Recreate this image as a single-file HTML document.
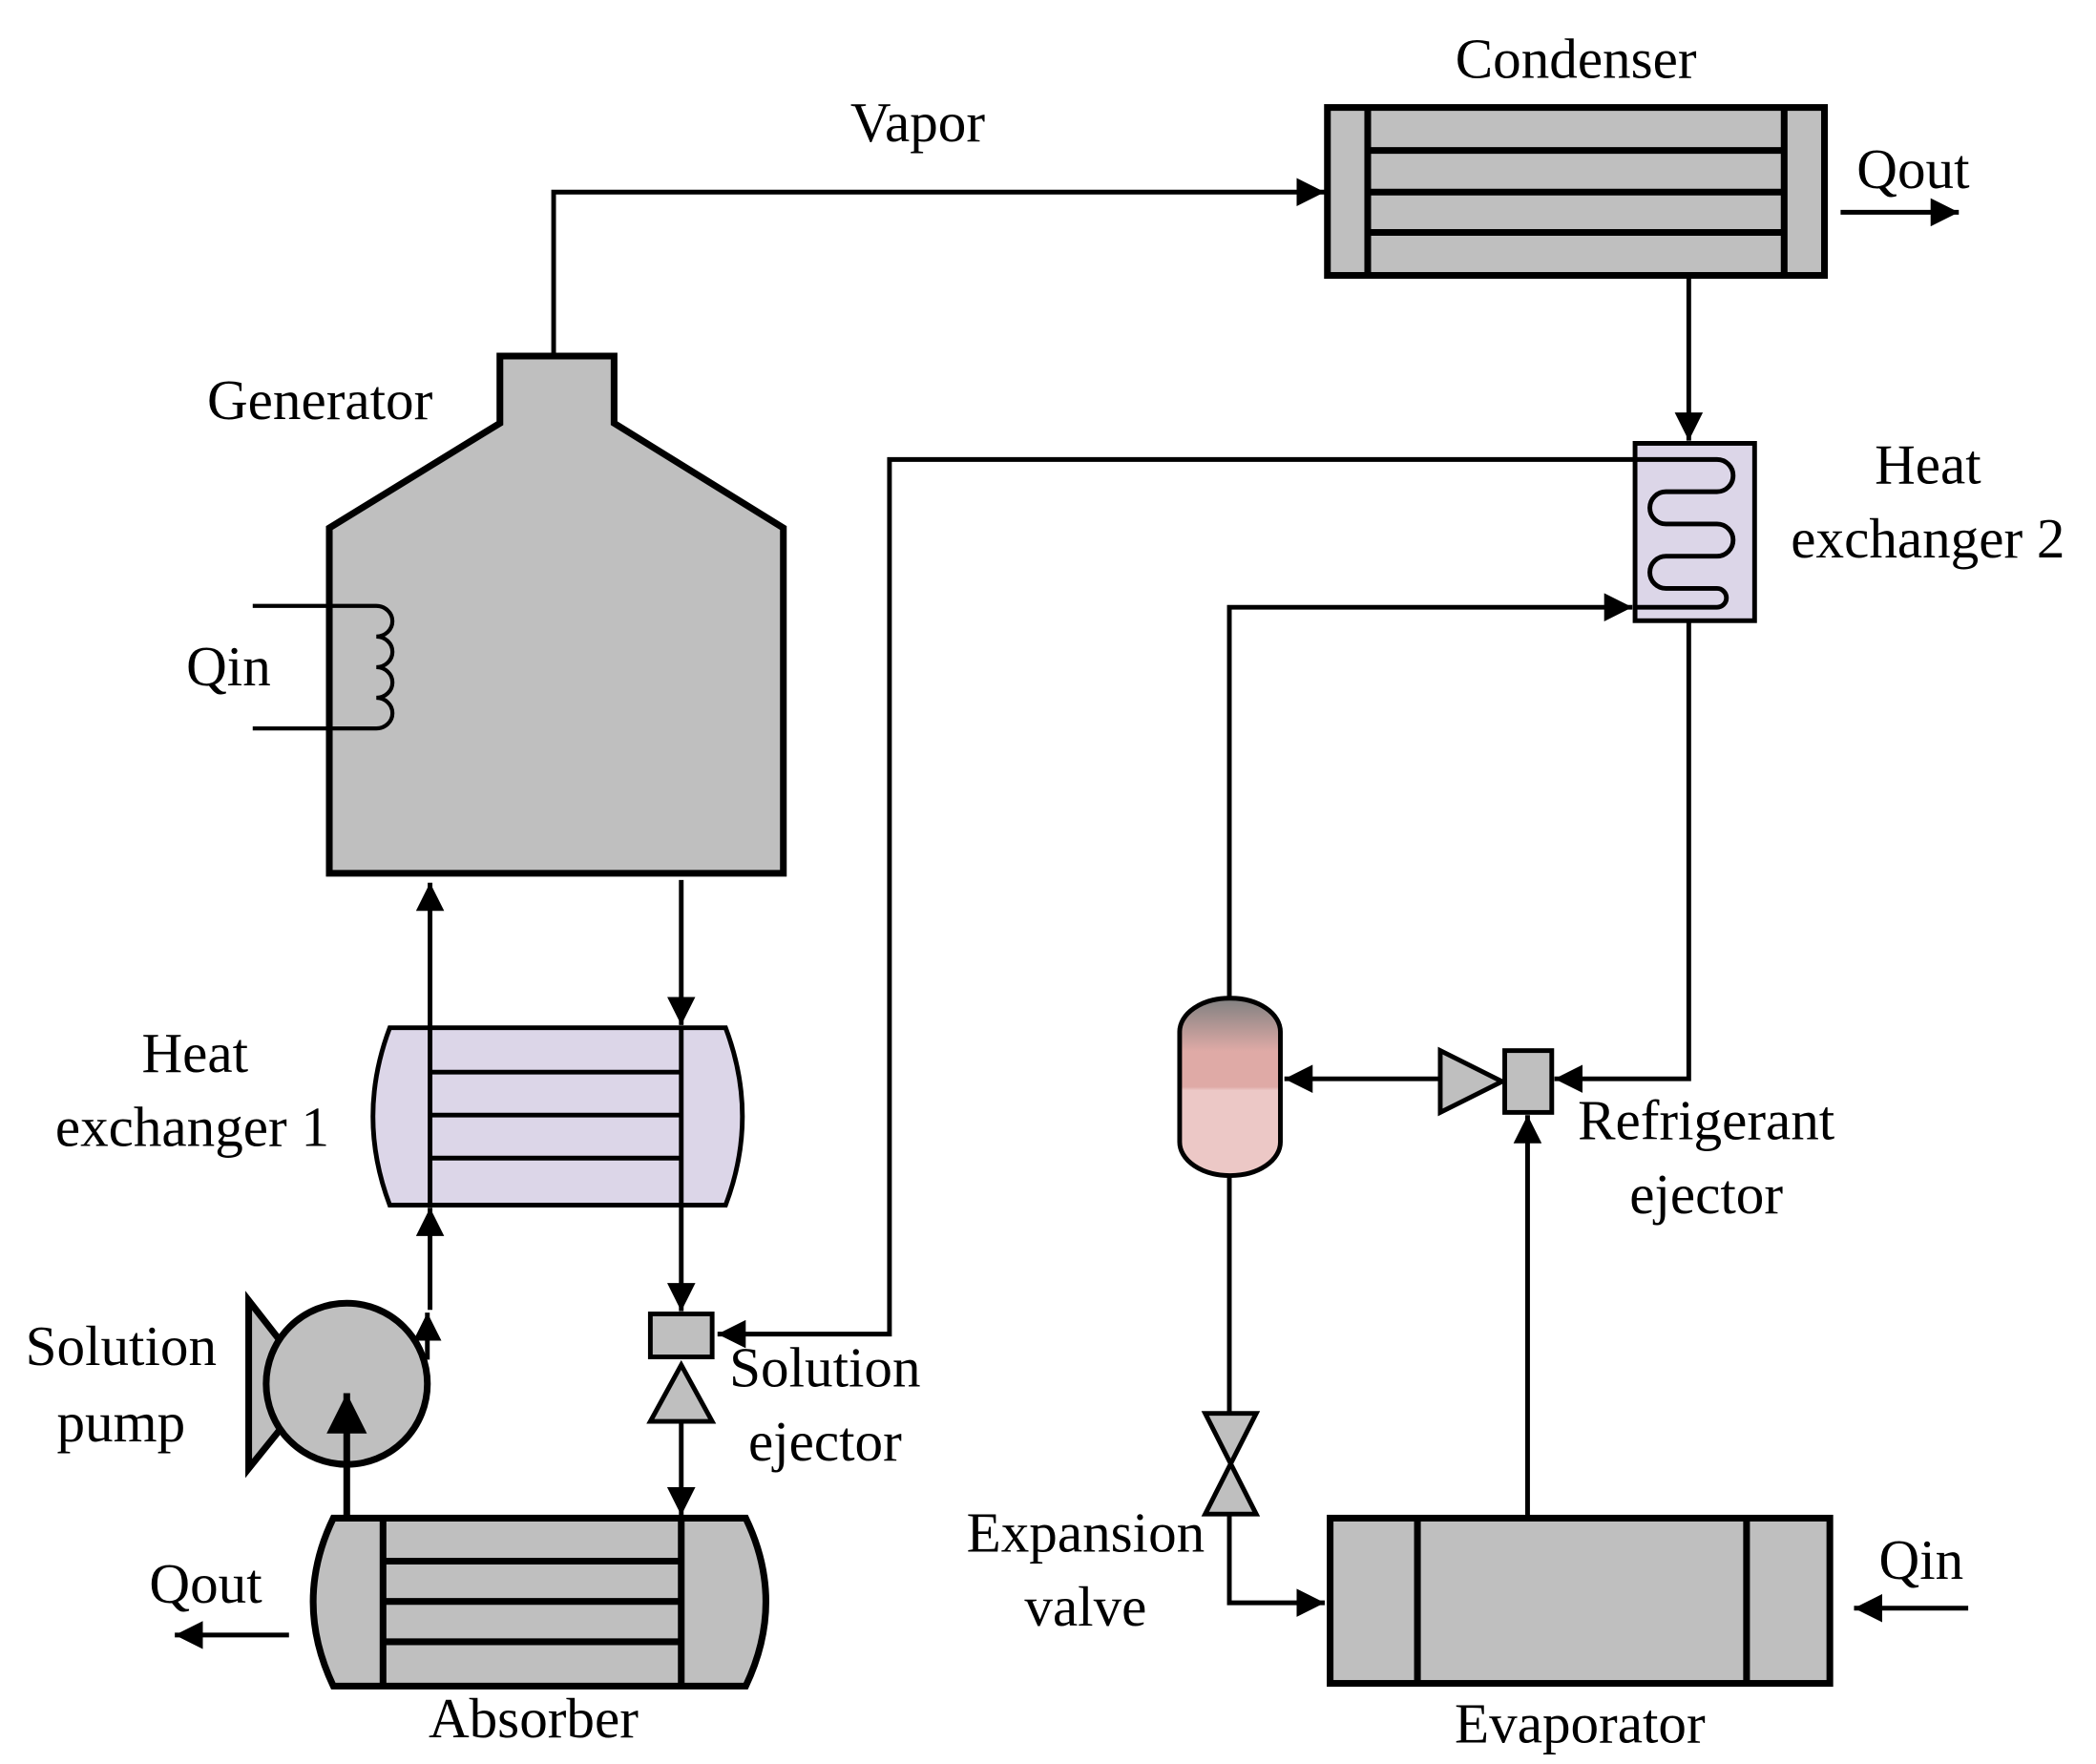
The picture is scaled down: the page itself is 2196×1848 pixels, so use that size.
<!DOCTYPE html>
<html><head><style>html,body{margin:0;padding:0;background:#fff}svg{display:block}</style></head><body>
<svg width="2196" height="1848" viewBox="0 0 1560 1313" xmlns="http://www.w3.org/2000/svg" font-family="'Liberation Serif',serif" font-size="42" fill="#000">
<defs>
<marker id="a" viewBox="0 0 10 10" refX="10" refY="5" markerWidth="6" markerHeight="6" orient="auto" markerUnits="strokeWidth"><path d="M0,0L10,5L0,10z" fill="#000"/></marker>
<linearGradient id="g" x1="0" y1="0" x2="0" y2="1"><stop offset="0" stop-color="#808080"/><stop offset="0.3" stop-color="#dfaaa6"/><stop offset="0.5" stop-color="#dfaaa6"/><stop offset="0.52" stop-color="#ecc8c6"/><stop offset="1" stop-color="#ecc8c6"/></linearGradient>
</defs>
<g stroke="#000" stroke-width="3.5" fill="none">
<polyline points="412,265 412,143 986,143" marker-end="url(#a)"/>
<line x1="1370" y1="158" x2="1458" y2="158" marker-end="url(#a)"/>
<line x1="1257" y1="205" x2="1257" y2="328" marker-end="url(#a)"/>
<polyline points="1217,342 662,342 662,993 534,993" marker-end="url(#a)"/>
<polyline points="915,745 915,452 1215,452" marker-end="url(#a)"/>
<polyline points="1257,462 1257,803 1157,803" marker-end="url(#a)"/>
<line x1="320" y1="765" x2="320" y2="657" marker-end="url(#a)"/>
<line x1="507" y1="655" x2="507" y2="763" marker-end="url(#a)"/>
<line x1="507" y1="897" x2="507" y2="976" marker-end="url(#a)"/>
<line x1="320" y1="975" x2="320" y2="899" marker-end="url(#a)"/>
<line x1="507" y1="1058" x2="507" y2="1128" marker-end="url(#a)"/>
<line x1="215" y1="1217" x2="130" y2="1217" marker-end="url(#a)"/>
<line x1="1072" y1="803" x2="956" y2="803" marker-end="url(#a)"/>
<line x1="1137" y1="1130" x2="1137" y2="830" marker-end="url(#a)"/>
<line x1="915" y1="875" x2="915" y2="1052"/>
<polyline points="915,1127 915,1193 986,1193" marker-end="url(#a)"/>
<line x1="1465" y1="1197" x2="1380" y2="1197" marker-end="url(#a)"/>
</g>
<g stroke="#000" stroke-width="5" fill="#bfbfbf">
<rect x="988" y="80" width="370" height="125"/>
<line x1="1018" y1="80" x2="1018" y2="205"/><line x1="1328" y1="80" x2="1328" y2="205"/>
<line x1="1018" y1="112" x2="1328" y2="112"/><line x1="1018" y1="143" x2="1328" y2="143"/><line x1="1018" y1="173" x2="1328" y2="173"/>
</g>
<rect x="1217" y="330" width="89" height="132" fill="#dcd6e8" stroke="#000" stroke-width="3.5"/>
<path d="M1217,342 H1278 a12,12 0 0 1 0,24 H1240 a12,12 0 0 0 0,24 H1278 a12,12 0 0 1 0,24 H1240 a12,12 0 0 0 0,24 H1278 a7,7 0 0 1 0,14 H1217" fill="none" stroke="#000" stroke-width="3.5"/>
<polygon points="245,650 245,393 372,315 372,265 457,265 457,315 583,393 583,650" fill="#bfbfbf" stroke="#000" stroke-width="5"/>
<path d="M188,451 H280 a12,11.4 0 0 1 0,22.8 a12,11.4 0 0 1 0,22.8 a12,11.4 0 0 1 0,22.8 a12,11.4 0 0 1 0,22.8 H188" fill="none" stroke="#000" stroke-width="3"/>
<g stroke="#000" stroke-width="3.5">
<path d="M290,765 H540 Q565,831 540,897 H290 Q265,831 290,765Z" fill="#dcd6e8"/>
<line x1="320" y1="765" x2="320" y2="897"/><line x1="507" y1="765" x2="507" y2="897"/>
<line x1="320" y1="798" x2="507" y2="798"/><line x1="320" y1="830" x2="507" y2="830"/><line x1="320" y1="862" x2="507" y2="862"/>
</g>
<g stroke="#000" stroke-width="5" fill="#bfbfbf">
<polygon points="185,968 210,1000 210,1062 185,1093"/>
<circle cx="258" cy="1030" r="60"/>
</g>
<line x1="318" y1="1012" x2="318" y2="977" stroke="#000" stroke-width="3.5" marker-end="url(#a)"/>
<line x1="258" y1="1130" x2="258" y2="1037" stroke="#000" stroke-width="5" marker-end="url(#a)"/>
<g stroke="#000" stroke-width="3.5" fill="#bfbfbf">
<rect x="484" y="978" width="46" height="32"/>
<polygon points="507,1016 484,1058 530,1058"/>
</g>
<g stroke="#000" stroke-width="5" fill="#bfbfbf">
<path d="M248,1130 H555 Q585,1192 555,1255 H248 Q218,1192 248,1130Z"/>
<line x1="285" y1="1130" x2="285" y2="1255"/><line x1="507" y1="1130" x2="507" y2="1255"/>
<line x1="285" y1="1162" x2="507" y2="1162"/><line x1="285" y1="1192" x2="507" y2="1192"/><line x1="285" y1="1222" x2="507" y2="1222"/>
</g>
<rect x="878" y="743" width="75" height="132" rx="37" ry="25" fill="url(#g)" stroke="#000" stroke-width="3.5"/>
<g stroke="#000" stroke-width="3.5" fill="#bfbfbf">
<polygon points="1072,782 1072,828 1118,805"/>
<rect x="1120" y="782" width="35" height="46"/>
<polygon points="897,1052 935,1052 897,1127 935,1127"/>
</g>
<g stroke="#000" stroke-width="5" fill="#bfbfbf">
<rect x="990" y="1130" width="372" height="123"/>
<line x1="1055" y1="1130" x2="1055" y2="1253"/><line x1="1300" y1="1130" x2="1300" y2="1253"/>
</g>
<text x="1173" y="58" text-anchor="middle">Condenser</text>
<text x="683" y="105" text-anchor="middle">Vapor</text>
<text x="1382" y="140">Qout</text>
<text x="238" y="312" text-anchor="middle">Generator</text>
<text x="1435" y="360" text-anchor="middle">Heat</text>
<text x="1435" y="415" text-anchor="middle">exchanger 2</text>
<text x="170" y="510" text-anchor="middle">Qin</text>
<text x="145" y="798" text-anchor="middle">Heat</text>
<text x="143" y="853" text-anchor="middle">exchanger 1</text>
<text x="1270" y="848" text-anchor="middle">Refrigerant</text>
<text x="1270" y="903" text-anchor="middle">ejector</text>
<text x="90" y="1016" text-anchor="middle">Solution</text>
<text x="90" y="1073" text-anchor="middle">pump</text>
<text x="614" y="1032" text-anchor="middle">Solution</text>
<text x="614" y="1087" text-anchor="middle">ejector</text>
<text x="808" y="1155" text-anchor="middle">Expansion</text>
<text x="808" y="1210" text-anchor="middle">valve</text>
<text x="1430" y="1175" text-anchor="middle">Qin</text>
<text x="153" y="1193" text-anchor="middle">Qout</text>
<text x="397" y="1293" text-anchor="middle">Absorber</text>
<text x="1176" y="1297" text-anchor="middle">Evaporator</text>
</svg>
</body></html>
